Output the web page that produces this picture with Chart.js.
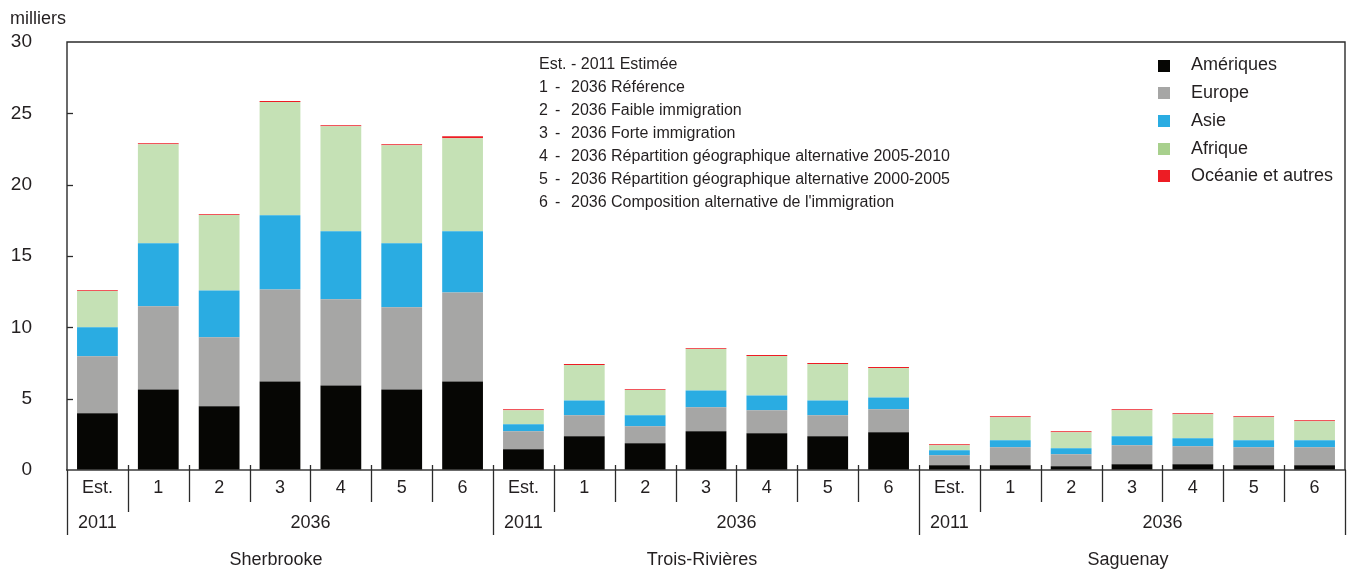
<!DOCTYPE html>
<html><head><meta charset="utf-8">
<script src="https://cdn.jsdelivr.net/npm/chart.js@4/dist/chart.umd.min.js"></script>
<style>html,body{margin:0;padding:0;background:#fff}#wrap{width:1351px;height:571px;position:relative}</style>
</head><body><div id="wrap"><canvas id="c" width="1351" height="571"></canvas></div>
<script>
const cities = ['Sherbrooke', 'Trois-Rivières', 'Saguenay'];
const scenarios = ['Est.', '1', '2', '3', '4', '5', '6'];
const years = ['2011', '2036'];
const seriesNames = ['Amériques', 'Europe', 'Asie', 'Afrique', 'Océanie et autres'];
const yTicks = [0, 5, 10, 15, 20, 25, 30];
const unitLabel = 'milliers';

// values in thousands, per bar: Sherbrooke (7), Trois-Rivières (7), Saguenay (7)
const ameriques = [3.97, 5.65, 4.46, 6.21, 5.93, 5.65, 6.21,
                   1.45, 2.36, 1.87, 2.71, 2.57, 2.36, 2.64,
                   0.33, 0.33, 0.26, 0.40, 0.40, 0.33, 0.33];
const europe    = [4.00, 5.82, 4.84, 6.45, 6.03, 5.75, 6.24,
                   1.26, 1.47, 1.19, 1.68, 1.61, 1.47, 1.61,
                   0.70, 1.26, 0.84, 1.33, 1.26, 1.26, 1.26];
const asie      = [2.03, 4.42, 3.29, 5.19, 4.77, 4.49, 4.28,
                   0.49, 1.05, 0.77, 1.19, 1.05, 1.05, 0.84,
                   0.35, 0.49, 0.42, 0.63, 0.56, 0.49, 0.49];
const afrique   = [2.55, 6.94, 5.28, 7.94, 7.36, 6.87, 6.52,
                   0.98, 2.48, 1.78, 2.90, 2.76, 2.55, 2.06,
                   0.35, 1.61, 1.12, 1.82, 1.68, 1.61, 1.33];
const oceanie   = [0.05, 0.07, 0.05, 0.07, 0.07, 0.07, 0.14,
                   0.07, 0.07, 0.05, 0.05, 0.07, 0.07, 0.07,
                   0.07, 0.07, 0.07, 0.07, 0.07, 0.07, 0.07];

const noteKeys = ['Est.', '1', '2', '3', '4', '5', '6'];
const noteTexts = ['2011 Estimée', '2036 Référence', '2036 Faible immigration', '2036 Forte immigration',
  '2036 Répartition géographique alternative 2005-2010',
  '2036 Répartition géographique alternative 2000-2005',
  '2036 Composition alternative de l\'immigration'];

const barColors = ['#060604', '#a6a6a5', '#2aace2', '#c5e1b5', '#ed1c24'];
const legendColors = ['#060604', '#a6a6a5', '#2aace2', '#a8d08d', '#ed1c24'];

const FONT = "'Liberation Sans', Arial, sans-serif";
const TXT = '#231f20';

const labels = [];
cities.forEach(() => scenarios.forEach(s => labels.push(s)));
const seriesData = [ameriques, europe, asie, afrique, oceanie];

const decor = {
  id: 'decor',
  afterDraw(chart) {
    const ctx = chart.ctx;
    const ca = chart.chartArea;
    const xs = chart.scales.x, ys = chart.scales.y;
    const band = xs.getPixelForValue(1) - xs.getPixelForValue(0);
    ctx.save();
    // frame
    ctx.strokeStyle = '#2b2b2b';
    ctx.lineWidth = 1.4;
    ctx.beginPath();
    ctx.moveTo(ca.left, ca.bottom);
    ctx.lineTo(ca.left, ca.top);
    ctx.lineTo(ca.right, ca.top);
    ctx.lineTo(ca.right, ca.bottom);
    ctx.stroke();
    // inward y ticks
    ctx.lineWidth = 1.3;
    yTicks.forEach(v => {
      if (v <= 0 || v >= 30) return;
      const y = Math.round(ys.getPixelForValue(v)) + 0.5;
      ctx.beginPath(); ctx.moveTo(ca.left, y); ctx.lineTo(ca.left + 6, y); ctx.stroke();
    });
    // x separators
    const n = labels.length;
    for (let i = 0; i <= n; i++) {
      const x = Math.round(xs.getPixelForValue(i) - band / 2) + 0.5;
      let y0 = ca.bottom - 5, y1 = 502;
      if (i % 7 === 0) { y0 = (i === 0 || i === n) ? ca.bottom : ca.bottom - 5; y1 = 535; }
      else if (i % 7 === 1) { y1 = 512; }
      ctx.beginPath(); ctx.moveTo(x, y0); ctx.lineTo(x, y1); ctx.stroke();
    }
    // x labels
    ctx.fillStyle = TXT;
    ctx.textAlign = 'center';
    ctx.textBaseline = 'middle';
    ctx.font = '18px ' + FONT;
    labels.forEach((l, i) => ctx.fillText(l, xs.getPixelForValue(i), 488));
    cities.forEach((c, ci) => {
      const i0 = ci * 7;
      ctx.fillText(years[0], xs.getPixelForValue(i0), 523);
      const mid = (xs.getPixelForValue(i0 + 1) + xs.getPixelForValue(i0 + 6)) / 2;
      ctx.fillText(years[1], mid, 523);
      const cmid = (xs.getPixelForValue(i0) + xs.getPixelForValue(i0 + 6)) / 2;
      ctx.fillText(c, cmid - 4, 560);
    });
    // unit label
    ctx.textAlign = 'left';
    ctx.fillText(unitLabel, 10, 19);
    // notes
    ctx.font = '16px ' + FONT;
    noteKeys.forEach((k, i) => {
      const y = 65 + i * 23;
      ctx.textAlign = 'left';
      if (k === 'Est.') {
        ctx.fillText(k + ' - ' + noteTexts[i], 539, y);
      } else {
        ctx.fillText(k, 539, y);
        ctx.fillText('-', 555, y);
        ctx.fillText(noteTexts[i], 571, y);
      }
    });
    // legend
    ctx.font = '18px ' + FONT;
    seriesNames.forEach((s, i) => {
      const y = 65.5 + i * 27.7;
      ctx.fillStyle = legendColors[i];
      ctx.fillRect(1158, Math.round(y - 6), 12, 12);
      ctx.fillStyle = TXT;
      ctx.fillText(s, 1191, y);
    });
    ctx.restore();
  }
};

new Chart(document.getElementById('c'), {
  type: 'bar',
  data: {
    labels: labels,
    datasets: seriesNames.map((name, i) => ({
      label: name,
      data: seriesData[i],
      backgroundColor: barColors[i],
      borderWidth: 0,
      barPercentage: 0.67,
      categoryPercentage: 1.0
    }))
  },
  options: {
    responsive: false,
    animation: false,
    layout: { padding: { left: 0, top: 42, right: 6, bottom: 0 } },
    plugins: { legend: { display: false }, tooltip: { enabled: false } },
    scales: {
      x: {
        stacked: true,
        grid: { display: false },
        border: { display: true, color: '#6b6b6b', width: 2 },
        ticks: { display: false },
        afterFit(s) { s.height = 101; s.paddingLeft = 0; s.paddingRight = 0; }
      },
      y: {
        stacked: true,
        min: 0, max: 30,
        afterBuildTicks(s) { s.ticks = yTicks.map(v => ({ value: v })); },
        grid: { display: true, drawOnChartArea: false, drawTicks: false },
        border: { display: false },
        ticks: { font: { size: 19, family: FONT }, color: TXT, padding: 35 },
        afterFit(s) { s.width = 67; s.paddingTop = 0; s.paddingBottom = 0; }
      }
    }
  },
  plugins: [decor]
});
</script>
</body></html>
